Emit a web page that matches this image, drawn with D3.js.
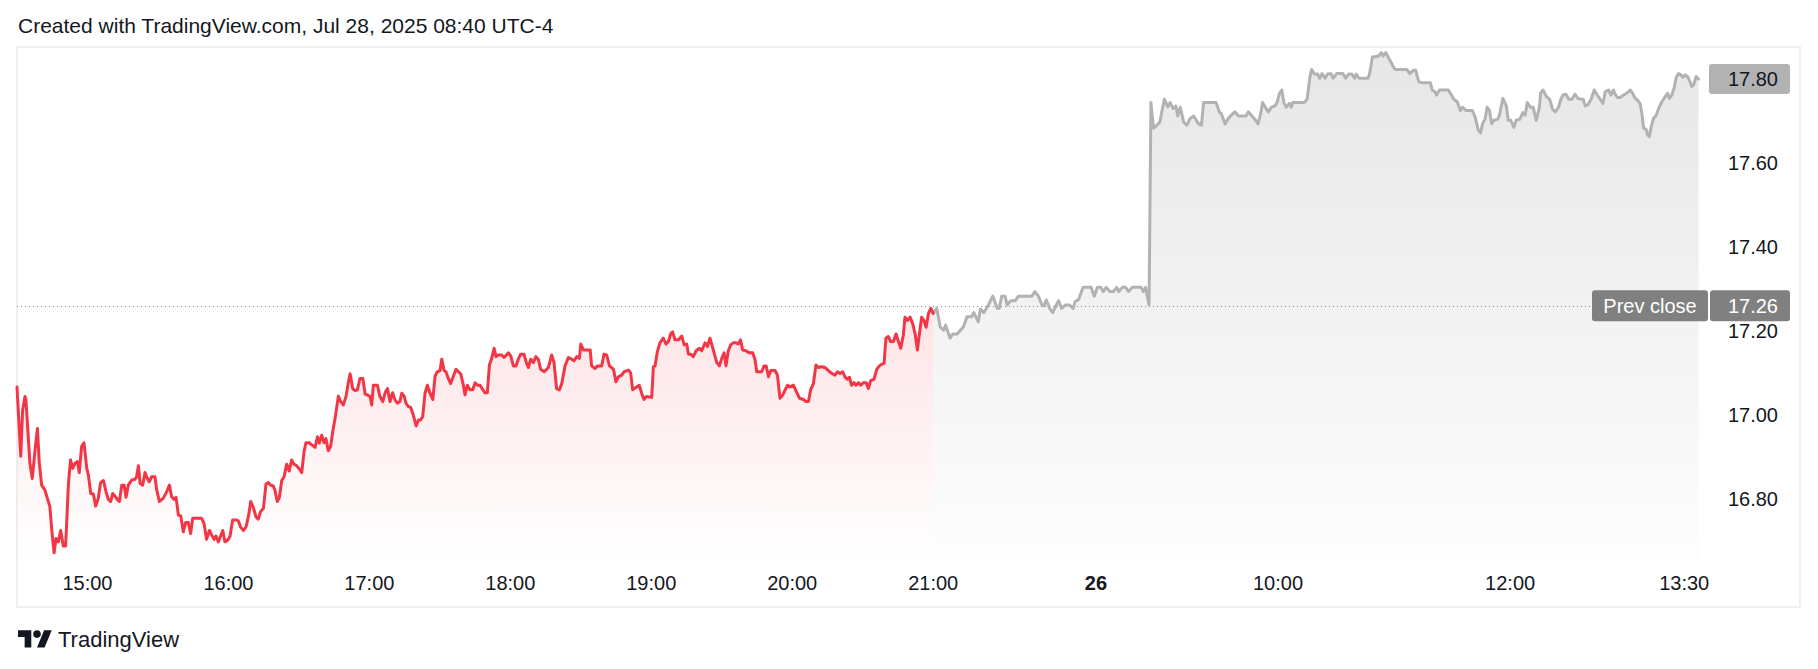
<!DOCTYPE html>
<html><head><meta charset="utf-8">
<script src="https://cdn.jsdelivr.net/npm/d3@7"></script>
<style>html,body{margin:0;padding:0;background:#fff;} svg{display:block;font-family:"Liberation Sans",Arial,sans-serif;}</style>
</head><body><svg id="c" width="1818" height="669"></svg>
<script>
const titleText = "Created with TradingView.com, Jul 28, 2025 08:40 UTC-4";
const brandText = "TradingView";
// [minutes along the time axis from 14:30, price]
const regularSession = [[0,17.067],[1.6,16.902],[2.4,17.012],[3.4,17.044],[3.8,17.036],[5.5,16.885],[6.5,16.849],[7.7,16.917],[8.7,16.968],[9.5,16.885],[10.5,16.833],[11.9,16.821],[12.9,16.802],[14.0,16.782],[14.8,16.726],[15.8,16.672],[16.6,16.706],[17.6,16.698],[18.6,16.725],[19.7,16.688],[20.7,16.688],[21.9,16.837],[22.8,16.893],[23.7,16.873],[24.7,16.885],[25.7,16.889],[26.5,16.863],[27.5,16.925],[28.5,16.934],[29.7,16.873],[30.4,16.857],[31.4,16.813],[32.5,16.812],[33.5,16.783],[34.6,16.802],[35.6,16.839],[36.8,16.844],[37.9,16.817],[38.9,16.799],[39.9,16.794],[40.7,16.813],[41.7,16.807],[42.7,16.799],[43.6,16.794],[44.6,16.833],[45.6,16.833],[46.4,16.804],[47.4,16.833],[48.8,16.845],[50.2,16.847],[50.9,16.853],[51.7,16.879],[52.4,16.837],[53.5,16.833],[54.5,16.863],[55.5,16.849],[56.3,16.841],[57.3,16.853],[58.7,16.853],[59.5,16.821],[60.6,16.794],[62.3,16.802],[63.7,16.817],[64.9,16.833],[65.8,16.806],[66.8,16.799],[67.7,16.804],[68.7,16.762],[69.7,16.760],[70.8,16.722],[71.8,16.744],[72.9,16.744],[73.9,16.718],[74.8,16.754],[76.5,16.754],[78.6,16.754],[79.6,16.742],[80.7,16.704],[81.9,16.725],[82.9,16.714],[83.9,16.704],[84.7,16.712],[85.7,16.698],[86.7,16.712],[87.6,16.725],[88.5,16.698],[89.7,16.702],[90.7,16.712],[91.8,16.750],[93.5,16.750],[94.2,16.748],[95.2,16.733],[96.4,16.725],[97.5,16.734],[98.5,16.758],[99.5,16.794],[100.6,16.780],[101.7,16.758],[102.7,16.752],[103.7,16.770],[104.9,16.778],[106.0,16.836],[107.0,16.839],[108.0,16.833],[109.1,16.831],[109.8,16.821],[110.8,16.794],[111.7,16.804],[112.7,16.844],[113.7,16.853],[114.8,16.883],[115.9,16.867],[116.9,16.893],[117.9,16.883],[119.1,16.879],[120.2,16.871],[121.2,16.863],[122.2,16.913],[123.0,16.934],[124.5,16.934],[125.4,16.929],[126.9,16.923],[127.9,16.948],[128.7,16.933],[129.7,16.952],[130.7,16.934],[131.5,16.944],[132.5,16.915],[133.5,16.925],[134.4,16.960],[135.4,16.992],[136.8,17.045],[137.8,17.032],[138.9,17.024],[140.1,17.045],[141.1,17.079],[141.8,17.098],[142.9,17.063],[143.9,17.058],[144.9,17.060],[146.0,17.087],[147.2,17.087],[148.2,17.050],[149.1,17.048],[150.3,17.044],[151.0,17.024],[151.7,17.071],[153.4,17.071],[154.5,17.044],[155.7,17.032],[156.7,17.053],[157.7,17.063],[158.8,17.032],[159.9,17.053],[160.9,17.036],[161.9,17.028],[163.0,17.032],[163.8,17.052],[164.8,17.045],[165.6,17.028],[166.6,17.020],[167.6,17.018],[168.7,17.000],[169.9,16.974],[170.9,16.988],[171.8,16.988],[172.7,16.996],[173.7,17.052],[174.7,17.071],[175.8,17.052],[177.0,17.037],[178.0,17.093],[178.9,17.103],[180.1,17.106],[180.8,17.133],[181.8,17.106],[182.6,17.103],[183.6,17.087],[184.6,17.075],[185.8,17.093],[186.9,17.109],[187.9,17.103],[188.9,17.098],[190.0,17.071],[190.7,17.048],[191.7,17.071],[192.8,17.060],[194.0,17.060],[195.0,17.077],[196.0,17.071],[197.1,17.071],[198.2,17.061],[199.2,17.053],[200.2,17.053],[201.1,17.119],[202.1,17.135],[203.1,17.159],[203.9,17.139],[204.9,17.143],[206.3,17.143],[207.3,17.137],[209.2,17.148],[210.2,17.140],[211.3,17.117],[212.4,17.117],[213.4,17.133],[214.4,17.145],[215.8,17.145],[216.7,17.127],[217.7,17.113],[218.7,17.133],[219.8,17.125],[220.9,17.139],[221.9,17.133],[222.9,17.109],[224.4,17.103],[226.2,17.113],[227.6,17.143],[228.6,17.125],[229.7,17.063],[230.9,17.060],[231.9,17.075],[233.3,17.117],[234.7,17.137],[236.1,17.133],[237.1,17.129],[238.3,17.139],[239.4,17.135],[240.0,17.169],[241.1,17.155],[244.0,17.155],[244.6,17.117],[246.1,17.111],[247.1,17.117],[248.9,17.117],[249.9,17.145],[251.0,17.143],[252.2,17.117],[253.9,17.109],[255.0,17.079],[256.0,17.091],[257.4,17.095],[258.4,17.103],[260.3,17.107],[261.2,17.101],[262.1,17.060],[263.8,17.067],[264.9,17.071],[265.9,17.052],[266.9,17.037],[268.0,17.044],[270.2,17.042],[270.9,17.115],[271.6,17.117],[272.6,17.151],[273.7,17.172],[275.1,17.183],[276.3,17.169],[277.3,17.175],[278.3,17.194],[279.1,17.198],[280.1,17.179],[281.6,17.179],[283.0,17.188],[284.0,17.167],[285.1,17.169],[285.8,17.145],[286.8,17.145],[287.9,17.139],[289.1,17.153],[290.5,17.159],[291.5,17.153],[292.9,17.172],[293.9,17.163],[295.0,17.183],[296.4,17.155],[297.9,17.125],[299.0,17.117],[300.0,17.135],[301.0,17.148],[301.8,17.117],[302.8,17.153],[303.8,17.167],[304.9,17.172],[306.1,17.172],[307.1,17.169],[308.0,17.179],[308.9,17.155],[310.3,17.153],[311.7,17.148],[313.2,17.148],[314.2,17.131],[314.9,17.103],[317.0,17.103],[318.0,17.117],[318.9,17.117],[319.9,17.091],[320.9,17.106],[322.7,17.106],[323.7,17.095],[324.8,17.040],[326.0,17.048],[327.0,17.060],[328.0,17.071],[329.1,17.067],[330.5,17.071],[332.0,17.053],[333.1,17.040],[334.8,17.037],[335.9,17.032],[336.9,17.032],[337.9,17.061],[339.0,17.074],[340.1,17.119],[341.1,17.113],[342.5,17.115],[344.0,17.113],[345.4,17.106],[346.8,17.099],[348.2,17.095],[349.2,17.103],[350.4,17.099],[351.5,17.103],[352.5,17.090],[353.5,17.085],[354.3,17.090],[355.3,17.071],[356.3,17.077],[357.2,17.071],[358.2,17.077],[359.2,17.071],[360.3,17.077],[361.5,17.077],[362.4,17.063],[363.4,17.082],[364.8,17.085],[366.0,17.109],[367.1,17.117],[368.1,17.121],[369.1,17.123],[369.9,17.183],[370.9,17.187],[371.9,17.175],[373.1,17.175],[374.2,17.193],[375.2,17.175],[376.2,17.159],[377.3,17.190],[378.0,17.233],[379.0,17.225],[380.2,17.233],[381.3,17.217],[382.3,17.194],[383.3,17.155],[384.4,17.204],[385.1,17.233],[386.1,17.225],[387.0,17.209],[388.0,17.242],[389.0,17.254],[390.0,17.242]];
const extendedSession = [[390.0,17.242],[391.5,17.254],[393.0,17.210],[394.5,17.202],[395.3,17.214],[397.2,17.183],[398.3,17.193],[400.2,17.193],[401.6,17.202],[402.9,17.210],[404.4,17.234],[406.3,17.234],[407.3,17.244],[409.2,17.222],[410.1,17.252],[411.6,17.244],[413.5,17.262],[415.4,17.283],[417.3,17.254],[418.1,17.254],[419.2,17.283],[420.6,17.283],[421.5,17.262],[423.0,17.272],[424.9,17.272],[426.3,17.283],[428.7,17.283],[432.0,17.283],[433.3,17.294],[434.8,17.283],[436.3,17.262],[437.1,17.260],[438.2,17.274],[439.6,17.254],[440.9,17.244],[442.4,17.262],[443.4,17.272],[444.7,17.254],[446.2,17.262],[448.1,17.262],[449.6,17.254],[450.4,17.270],[451.9,17.275],[453.8,17.304],[455.7,17.304],[457.2,17.304],[458.6,17.283],[459.9,17.304],[461.4,17.304],[462.4,17.294],[463.7,17.304],[465.2,17.294],[466.7,17.294],[468.1,17.304],[469.0,17.294],[470.5,17.304],[471.9,17.304],[473.2,17.294],[474.7,17.304],[478.5,17.304],[479.5,17.294],[480.4,17.304],[481.9,17.262],[482.7,17.744],[483.8,17.683],[485.2,17.690],[486.5,17.698],[488.4,17.752],[489.9,17.734],[490.9,17.744],[492.2,17.730],[493.3,17.736],[494.1,17.712],[495.2,17.733],[496.6,17.698],[497.9,17.690],[499.4,17.706],[500.9,17.712],[502.9,17.694],[504.2,17.690],[505.1,17.744],[508.9,17.744],[510.4,17.744],[511.8,17.722],[512.7,17.717],[514.3,17.693],[515.6,17.706],[516.9,17.714],[518.4,17.722],[520.0,17.712],[521.3,17.712],[523.2,17.712],[524.1,17.722],[525.7,17.712],[527.0,17.704],[528.3,17.693],[529.5,17.720],[530.2,17.744],[531.7,17.730],[532.7,17.722],[534.0,17.733],[535.5,17.736],[536.5,17.746],[537.4,17.766],[538.4,17.774],[539.3,17.744],[540.3,17.733],[541.6,17.742],[542.4,17.733],[543.1,17.744],[545.0,17.744],[547.9,17.744],[549.2,17.752],[550.4,17.806],[551.1,17.823],[552.3,17.812],[553.6,17.812],[554.5,17.802],[555.5,17.813],[556.8,17.802],[557.9,17.812],[559.3,17.813],[560.2,17.802],[561.8,17.813],[563.1,17.813],[564.4,17.813],[565.6,17.802],[566.9,17.812],[568.2,17.812],[569.4,17.802],[570.1,17.812],[571.3,17.802],[572.6,17.802],[575.1,17.802],[575.8,17.813],[577.0,17.853],[578.3,17.853],[579.6,17.855],[580.8,17.863],[581.5,17.855],[582.7,17.863],[584.0,17.849],[585.0,17.839],[586.5,17.823],[588.7,17.823],[591.6,17.823],[592.9,17.813],[594.4,17.821],[595.4,17.821],[596.7,17.794],[598.2,17.791],[601.7,17.791],[602.4,17.774],[603.6,17.770],[604.3,17.762],[605.5,17.774],[609.3,17.774],[610.6,17.762],[611.6,17.752],[613.1,17.746],[614.4,17.725],[615.4,17.733],[616.9,17.725],[619.5,17.725],[620.7,17.710],[622.0,17.679],[623.0,17.672],[623.9,17.694],[624.9,17.704],[625.8,17.733],[626.8,17.726],[627.7,17.694],[628.7,17.702],[630.2,17.704],[631.0,17.712],[632.5,17.754],[634.0,17.736],[634.8,17.702],[635.9,17.702],[637.2,17.685],[638.2,17.702],[639.7,17.704],[641.0,17.720],[642.0,17.714],[642.9,17.744],[644.2,17.733],[645.4,17.733],[646.7,17.702],[648.0,17.730],[648.6,17.767],[649.6,17.774],[651.1,17.758],[652.4,17.752],[653.7,17.728],[654.9,17.722],[656.2,17.733],[657.2,17.752],[658.1,17.762],[659.4,17.764],[660.6,17.752],[661.9,17.752],[663.2,17.764],[664.4,17.754],[665.7,17.752],[666.7,17.752],[667.6,17.736],[668.6,17.738],[670.1,17.752],[671.4,17.774],[672.7,17.762],[673.9,17.752],[675.1,17.742],[676.1,17.770],[677.5,17.774],[678.5,17.762],[679.6,17.774],[680.3,17.764],[681.3,17.756],[682.4,17.756],[683.9,17.762],[685.3,17.767],[686.0,17.770],[686.7,17.774],[687.8,17.766],[688.8,17.754],[689.8,17.750],[690.9,17.742],[691.7,17.718],[692.4,17.683],[693.5,17.680],[694.1,17.667],[694.9,17.663],[695.5,17.683],[696.6,17.706],[697.8,17.714],[698.8,17.730],[700.2,17.746],[701.6,17.758],[702.6,17.766],[703.4,17.754],[704.4,17.762],[705.4,17.778],[706.3,17.804],[707.3,17.813],[708.3,17.810],[709.1,17.804],[710.1,17.810],[711.1,17.806],[712.2,17.794],[712.9,17.782],[713.7,17.786],[714.8,17.806],[715.8,17.800]];
const prevClose = 17.26;
const prevCloseLabel = "Prev close";
const priceTicks = [16.8, 17.0, 17.2, 17.4, 17.6, 17.8];
const timeTickPos = [30, 90, 150, 210, 270, 330, 390, 459.3, 536.8, 635.6, 709.7];
const timeTickLabels = ["15:00","16:00","17:00","18:00","19:00","20:00","21:00","26","10:00","12:00","13:30"];
const boldTickLabels = ["26"];

const svg = d3.select("#c");
const pane = {left: 17, right: 1707, top: 48, bottom: 562};
const x = d3.scaleLinear().domain([0, 716]).range([17, 1699]);
const y = d3.scaleLinear().domain([16.65, 17.874]).range([pane.bottom, pane.top]);
const ink = "#131722";

// header
svg.append("text").attr("x", 18).attr("y", 33).attr("font-size", 21).attr("fill", ink).text(titleText);

// frame
svg.append("rect").attr("x", 17).attr("y", 47).attr("width", 1783).attr("height", 560)
  .attr("fill", "none").attr("stroke", "#efefef").attr("stroke-width", 2);

const defs = svg.append("defs");
function grad(id, rgb, a0, a1) {
  const g = defs.append("linearGradient").attr("id", id).attr("gradientUnits", "userSpaceOnUse")
    .attr("x1", 0).attr("x2", 0).attr("y1", pane.top).attr("y2", pane.bottom);
  g.append("stop").attr("offset", 0).attr("stop-color", rgb).attr("stop-opacity", a0);
  g.append("stop").attr("offset", 1).attr("stop-color", rgb).attr("stop-opacity", a1);
}
grad("gRed", "#F23645", 0.28, 0.0);
grad("gGrey", "#B2B2B2", 0.32, 0.02);

const area = d3.area().x(d => x(d[0])).y0(pane.bottom).y1(d => y(d[1]));
const line = d3.line().x(d => x(d[0])).y(d => y(d[1]));

svg.append("path").datum(regularSession).attr("d", area).attr("fill", "url(#gRed)");
svg.append("path").datum(extendedSession).attr("d", area).attr("fill", "url(#gGrey)");

// prev close dotted line
svg.append("line").attr("x1", pane.left).attr("x2", pane.right)
  .attr("y1", Math.round(y(prevClose)) + 0.5).attr("y2", Math.round(y(prevClose)) + 0.5)
  .attr("stroke", "#8a8a8a").attr("stroke-width", 1).attr("stroke-dasharray", "1 3");

svg.append("path").datum(extendedSession).attr("d", line).attr("fill", "none")
  .attr("stroke", "#B2B2B2").attr("stroke-width", 3).attr("stroke-linejoin", "round").attr("stroke-linecap", "round");
svg.append("path").datum(regularSession).attr("d", line).attr("fill", "none")
  .attr("stroke", "#F23645").attr("stroke-width", 3).attr("stroke-linejoin", "round").attr("stroke-linecap", "round");

// price axis labels
const fmt = d3.format(".2f");
svg.append("g").selectAll("text").data(priceTicks).join("text")
  .attr("x", 1778).attr("y", d => y(d)).attr("dy", "0.35em").attr("text-anchor", "end")
  .attr("font-size", 20).attr("fill", ink).text(d => fmt(d));

// time axis labels
svg.append("g").selectAll("text").data(timeTickPos).join("text")
  .attr("x", d => x(d)).attr("y", 583).attr("dy", "0.35em").attr("text-anchor", "middle")
  .attr("font-size", 20).attr("fill", ink)
  .attr("font-weight", (d, i) => boldTickLabels.includes(timeTickLabels[i]) ? "bold" : "normal")
  .text((d, i) => timeTickLabels[i]);

// last price label
const last = extendedSession[extendedSession.length - 1][1];
const ly = y(last);
svg.append("rect").attr("x", 1709).attr("y", ly - 15).attr("width", 81).attr("height", 30).attr("rx", 3).attr("fill", "#B2B2B2");
svg.append("text").attr("x", 1778).attr("y", ly).attr("dy", "0.35em").attr("text-anchor", "end")
  .attr("font-size", 20).attr("fill", ink).text(fmt(last));

// prev close label
const py = y(prevClose);
svg.append("rect").attr("x", 1592).attr("y", py - 15.5).attr("width", 116).attr("height", 31).attr("rx", 3).attr("fill", "#808080");
svg.append("rect").attr("x", 1710).attr("y", py - 15.5).attr("width", 80).attr("height", 31).attr("rx", 3).attr("fill", "#808080");
svg.append("text").attr("x", 1650).attr("y", py).attr("dy", "0.35em").attr("text-anchor", "middle")
  .attr("font-size", 20).attr("fill", "#fff").text(prevCloseLabel);
svg.append("text").attr("x", 1778).attr("y", py).attr("dy", "0.35em").attr("text-anchor", "end")
  .attr("font-size", 20).attr("fill", "#fff").text(fmt(prevClose));

// TradingView logo
const logo = svg.append("g").attr("transform", "translate(18,626.5) scale(0.95)").attr("fill", ink);
logo.append("path").attr("d", "M14 22H7V11H0V4h14v18z");
logo.append("circle").attr("cx", 20).attr("cy", 8).attr("r", 4);
logo.append("path").attr("d", "M28 22h-8l7.5-18h8z");
svg.append("text").attr("x", 58).attr("y", 647).attr("font-size", 22).attr("fill", ink).text(brandText);
</script></body></html>
